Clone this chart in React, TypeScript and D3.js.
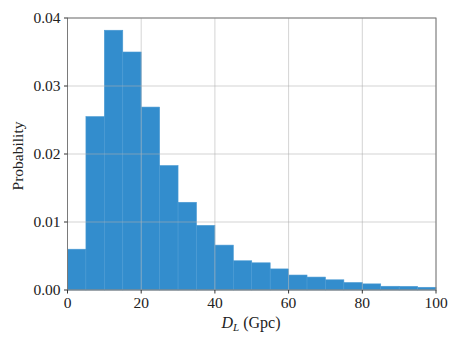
import React from "react";
import * as d3 from "d3";

// histogram of luminosity distance, bins of 5 Gpc
const binEdges = [0, 5, 10, 15, 20, 25, 30, 35, 40, 45, 50, 55, 60, 65, 70, 75, 80, 85, 90, 95, 100];
const probs = [
  0.006, 0.0255, 0.0382, 0.035, 0.0269, 0.0183, 0.0129, 0.0095, 0.0066, 0.0043,
  0.004, 0.0031, 0.0022, 0.0019, 0.0015, 0.0011, 0.0009, 0.00055, 0.00053, 0.0004,
];
const xTicks = [0, 20, 40, 60, 80, 100];
const yTicks = [0, 0.01, 0.02, 0.03, 0.04];

const W = 461;
const H = 346;
const left = 67.5;
const right = 436;
const top = 18;
const bottom = 290;
const font = "'Liberation Serif', 'DejaVu Serif', serif";

export default function App() {
  const x = d3.scaleLinear().domain([0, 100]).range([left, right]);
  const y = d3.scaleLinear().domain([0, 0.04]).range([bottom, top]);

  return (
    <svg width={W} height={H} style={{ position: "absolute", left: 0, top: 0 }}>
      <rect width={W} height={H} fill="#fff" />
      {/* bars */}
      {probs.map((p, i) => (
        <rect
          key={i}
          x={x(binEdges[i])}
          y={y(p)}
          width={x(binEdges[i + 1]) - x(binEdges[i])}
          height={bottom - y(p)}
          fill="#338dcd"
          stroke="#4a9ad3"
          strokeWidth={0.6}
        />
      ))}
      {/* grid on top */}
      {xTicks.map((t) => (
        <line key={"gx" + t} x1={x(t)} x2={x(t)} y1={top} y2={bottom} stroke="#b0b0b0" strokeOpacity={0.55} strokeWidth={1} />
      ))}
      {yTicks.map((t) => (
        <line key={"gy" + t} x1={left} x2={right} y1={y(t)} y2={y(t)} stroke="#b0b0b0" strokeOpacity={0.55} strokeWidth={1} />
      ))}
      {/* frame */}
      <rect x={left} y={top} width={right - left} height={bottom - top} fill="none" stroke="#7a7a7a" strokeWidth={1} />
      {/* x ticks */}
      {xTicks.map((t) => (
        <g key={"xt" + t}>
          <line x1={x(t)} x2={x(t)} y1={bottom} y2={bottom + 3.5} stroke="#333" strokeWidth={1} />
          <text x={x(t)} y={308} textAnchor="middle" fontFamily={font} fontSize={15.5} fill="#222">
            {t}
          </text>
        </g>
      ))}
      {/* y ticks */}
      {yTicks.map((t) => (
        <g key={"yt" + t}>
          <line x1={left - 3.5} x2={left} y1={y(t)} y2={y(t)} stroke="#333" strokeWidth={1} />
          <text x={60.5} y={y(t) + 5} textAnchor="end" fontFamily={font} fontSize={15.5} fill="#222">
            {t.toFixed(2)}
          </text>
        </g>
      ))}
      {/* axis labels */}
      <text x={251} y={328} textAnchor="middle" fontFamily={font} fontSize={16} fill="#222">
        <tspan fontStyle="italic">D</tspan>
        <tspan fontStyle="italic" fontSize={11} dy={3}>L</tspan>
        <tspan dy={-3}> (Gpc)</tspan>
      </text>
      <text
        transform={`translate(23,156) rotate(-90)`}
        textAnchor="middle"
        fontFamily={font}
        fontSize={15.5}
        fill="#222"
      >
        Probability
      </text>
    </svg>
  );
}
